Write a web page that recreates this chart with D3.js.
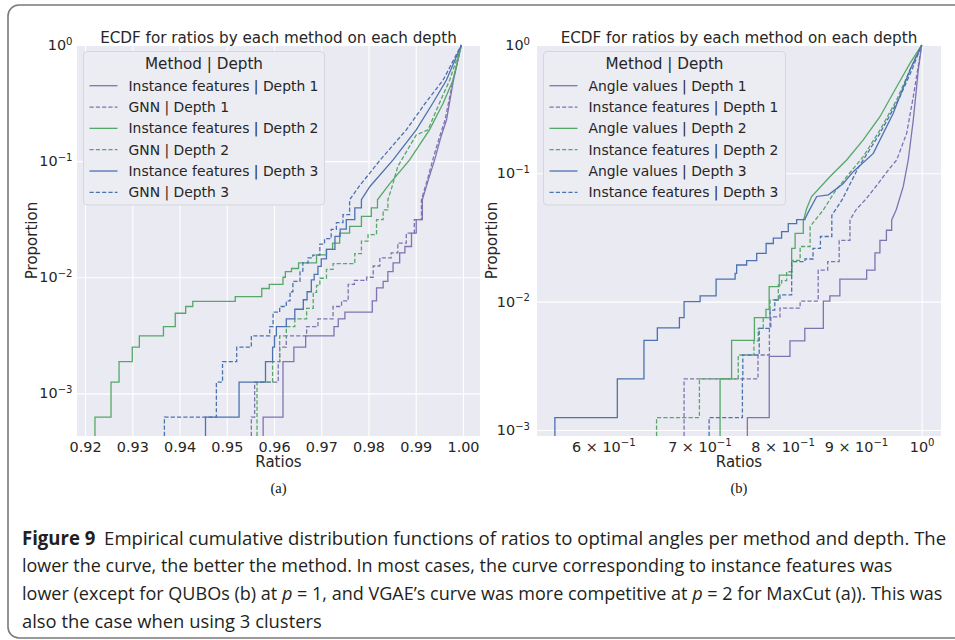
<!DOCTYPE html>
<html>
<head>
<meta charset="utf-8">
<script src="https://cdn.jsdelivr.net/npm/d3@7"></script>
<style>
  body { margin: 0; background: #fff; }
  svg text { font-family: "DejaVu Sans", sans-serif; fill: #262626; }
</style>
</head>
<body>
<svg id="fig" width="955" height="640"></svg>
<script>
// ---- data ----
const leftXTicks = [0.92, 0.93, 0.94, 0.95, 0.96, 0.97, 0.98, 0.99, 1.00];
const rightXTicks = [0.6, 0.7, 0.8, 0.9, 1.0];
const rightXTickBase = ["6 × 10", "7 × 10", "8 × 10", "9 × 10", "10"];
const rightXTickExp = ["−1", "−1", "−1", "−1", "0"];
const yTicks = [1e-3, 1e-2, 1e-1, 1];
const yTickExp = ["−3", "−2", "−1", "0"];

const leftNames = ["Instance features | Depth 1", "GNN | Depth 1", "Instance features | Depth 2",
                   "GNN | Depth 2", "Instance features | Depth 3", "GNN | Depth 3"];
const rightNames = ["Angle values | Depth 1", "Instance features | Depth 1", "Angle values | Depth 2",
                    "Instance features | Depth 2", "Angle values | Depth 3", "Instance features | Depth 3"];

// (a) ECDF jumps [ratio, proportion]; "trace" = dense part where the steps merge into a line
const aIfD1Steps = [[0.9577,6.25e-4],[0.9619,1.875e-3],[0.9642,2.5e-3],[0.9667,3.125e-3],[0.9727,3.75e-3],[0.9736,4.375e-3],[0.9750,5.0e-3],[0.9808,6.25e-3],[0.9817,8.1e-3],[0.9831,9.2e-3],[0.9841,0.0112],[0.9852,0.0133],[0.9866,0.0162],[0.9877,0.0184],[0.9891,0.024],[0.9901,0.0313],[0.9914,0.0465]];
const aIfD1Trace = [[0.9927,0.07],[0.9940,0.1026],[0.9953,0.16],[0.9965,0.226],[0.9980,0.5],[0.99965,1]];
const aGnnD1Steps = [[0.9552,6.25e-4],[0.9559,1.25e-3],[0.9609,1.875e-3],[0.9612,2.5e-3],[0.9626,3.125e-3],[0.9669,3.75e-3],[0.9693,4.375e-3],[0.9725,5.6e-3],[0.9743,6.25e-3],[0.9757,8.7e-3],[0.9770,9.4e-3],[0.9796,0.0100],[0.9810,0.0125],[0.9824,0.0147],[0.9848,0.0162],[0.9862,0.0197],[0.9880,0.024],[0.9897,0.0313],[0.9912,0.0465]];
const aGnnD1Trace = [[0.9925,0.07],[0.9936,0.1026],[0.9950,0.16],[0.9962,0.226],[0.9979,0.5],[0.99965,1]];
const aIfD2Steps = [[0.9221,6.25e-4],[0.9255,1.25e-3],[0.9272,1.875e-3],[0.9300,2.5e-3],[0.9315,3.125e-3],[0.9366,3.75e-3],[0.9391,4.9e-3],[0.9413,5.6e-3],[0.9428,6.2e-3],[0.9518,6.8e-3],[0.9574,8.0e-3],[0.9590,8.7e-3],[0.9619,0.0100],[0.9624,0.0112],[0.9637,0.0119],[0.9652,0.0133],[0.9690,0.0156],[0.9711,0.0174],[0.9724,0.0197],[0.9739,0.0240],[0.9760,0.0274],[0.9785,0.0335],[0.9806,0.0395],[0.9819,0.0465]];
const aIfD2Trace = [[0.9845,0.064],[0.9887,0.1026],[0.9929,0.186],[0.9958,0.315],[0.9979,0.5],[0.99965,1]];
const aGnnD2Steps = [[0.9564,1.25e-3],[0.9597,1.875e-3],[0.9612,3.125e-3],[0.9626,3.75e-3],[0.9644,4.375e-3],[0.9669,5.4e-3],[0.9683,7.4e-3],[0.9690,8.5e-3],[0.9697,9.8e-3],[0.9711,0.0117],[0.9725,0.0131],[0.9771,0.0160],[0.9785,0.0205],[0.9799,0.0233],[0.9817,0.0313],[0.9831,0.0380],[0.9841,0.0465]];
const aGnnD2Trace = [[0.9848,0.0567],[0.9862,0.090],[0.9901,0.168],[0.9926,0.186],[0.9950,0.315],[0.9972,0.5],[0.99965,1]];
const aIfD3Steps = [[0.9455,6.25e-4],[0.9526,1.25e-3],[0.9582,1.875e-3],[0.9597,2.5e-3],[0.9601,3.125e-3],[0.9605,3.75e-3],[0.9626,4.375e-3],[0.9644,5.3e-3],[0.9662,6.4e-3],[0.9670,7.5e-3],[0.9679,9.5e-3],[0.9685,0.0106],[0.9693,0.0124],[0.9700,0.0144],[0.9711,0.0174],[0.9729,0.0225],[0.9740,0.026],[0.9753,0.0313],[0.9771,0.0395],[0.9785,0.0465]];
const aIfD3Trace = [[0.9803,0.0605],[0.9852,0.1026],[0.9901,0.186],[0.9936,0.315],[0.9965,0.5],[0.99965,1]];
const aGnnD3Steps = [[0.9368,6.25e-4],[0.9478,1.25e-3],[0.9491,1.875e-3],[0.9521,2.5e-3],[0.9552,3.125e-3],[0.9591,3.75e-3],[0.9598,5.0e-3],[0.9612,5.6e-3],[0.9626,6.25e-3],[0.9634,7.5e-3],[0.9640,9.2e-3],[0.9655,0.0113],[0.9661,0.0133],[0.9672,0.0147],[0.9682,0.0155],[0.9697,0.0193],[0.9707,0.0215],[0.9721,0.0258],[0.9732,0.0295],[0.9746,0.0346],[0.9760,0.0465]];
const aGnnD3Trace = [[0.9780,0.0605],[0.9825,0.1026],[0.9880,0.186],[0.9920,0.315],[0.9958,0.5],[0.99965,1]];

// (b)
const bAvD1Steps = [[0.756,1.25e-3],[0.783,3.75e-3],[0.8095,4.95e-3],[0.829,6.2e-3],[0.854,0.0101],[0.863,0.0111],[0.877,0.0150],[0.9155,0.0176],[0.9278,0.024],[0.9352,0.030],[0.9450,0.036],[0.9530,0.0433]];
const bAvD1Trace = [[0.9600,0.052],[0.9709,0.079],[0.9787,0.127],[0.9866,0.26],[0.9946,0.64],[1,1]];
const bIfD1Steps = [[0.683,2.5e-3],[0.769,3.84e-3],[0.7832,6.2e-3],[0.7850,7.6e-3],[0.7966,8.9e-3],[0.8228,0.0101],[0.8470,0.0176],[0.8600,0.0205],[0.8760,0.0300],[0.8913,0.0433]];
const bIfD1Trace = [[0.9000,0.052],[0.9155,0.064],[0.9300,0.080],[0.9478,0.106],[0.9607,0.127],[0.9762,0.205],[0.9866,0.395],[1,1]];
const bAvD2Steps = [[0.7236,2.5e-3],[0.7371,5.0e-3],[0.7646,7.5e-3],[0.7789,8.7e-3],[0.7829,0.0131],[0.7957,0.0161],[0.8117,0.026],[0.8162,0.0341],[0.8270,0.0425]];
const bAvD2Trace = [[0.8315,0.0533],[0.8381,0.0659],[0.8630,0.094],[0.8866,0.127],[0.9105,0.182],[0.9352,0.276],[0.9607,0.473],[0.9814,0.72],[1,1]];
const bIfD2Steps = [[0.6535,1.25e-3],[0.7000,2.5e-3],[0.7450,3.84e-3],[0.7640,4.95e-3],[0.7693,6.2e-3],[0.7755,7.5e-3],[0.7840,0.0103],[0.7945,0.0135],[0.7987,0.0146],[0.8052,0.0171],[0.8120,0.0210],[0.8228,0.0269],[0.8361,0.0385]];
const bIfD2Trace = [[0.8539,0.0518],[0.8700,0.072],[0.8866,0.094],[0.9105,0.135],[0.9352,0.217],[0.9607,0.373],[0.9814,0.64],[1,1]];
const bAvD3Steps = [[0.5551,1.25e-3],[0.6136,2.5e-3],[0.6404,5.0e-3],[0.6543,6.25e-3],[0.6779,7.5e-3],[0.6830,0.0100],[0.7008,0.0111],[0.7190,0.0150],[0.7413,0.0166],[0.7431,0.0193],[0.7551,0.0209],[0.7674,0.0238],[0.7791,0.0284],[0.7882,0.0313],[0.7987,0.0351],[0.8073,0.0406],[0.8182,0.0435],[0.8292,0.0441]];
const bAvD3Trace = [[0.8340,0.0503],[0.8450,0.066],[0.8610,0.068],[0.8818,0.0834],[0.8960,0.103],[0.9253,0.143],[0.9554,0.294],[0.9814,0.638],[1,1]];
const bIfD3Steps = [[0.711,1.25e-3],[0.750,2.5e-3],[0.7505,3.84e-3],[0.7705,6.2e-3],[0.7840,8.6e-3],[0.7900,0.0103],[0.7966,0.0113],[0.8117,0.0205],[0.8292,0.0215],[0.8400,0.0260],[0.8500,0.0322],[0.8657,0.0470]];
const bIfD3Trace = [[0.8800,0.062],[0.9030,0.110],[0.9352,0.205],[0.9658,0.395],[0.9850,0.65],[1,1]];

const captionLine1 = "Empirical cumulative distribution functions of ratios to optimal angles per method and depth. The";
const captionLine2 = "lower the curve, the better the method. In most cases, the curve corresponding to instance features was";
const captionLine4 = "also the case when using 3 clusters";

// ---- styles ----
const depthColors = ["#8172b3", "#55a868", "#4c72b0"];
const dashes = [null, "4.2,2.1"];

const svg = d3.select("#fig");

// outer frame
svg.append("rect")
  .attr("x", 8).attr("y", 5).attr("width", 990).attr("height", 633).attr("rx", 11)
  .attr("fill", "none").attr("stroke", "#7a7a7a").attr("stroke-width", 1.6);

function supText(sel, base, exp) {
  sel.text(null);
  sel.append("tspan").text(base);
  sel.append("tspan").attr("dy", "-0.55em").attr("font-size", "0.7em").text(exp);
}

// builds ECDF vertices: vertical jumps + flat runs, then the dense tail as a plain line
function ecdfPoints(steps, trace, floor) {
  const pts = [];
  let prev = floor;
  steps.forEach(d => { pts.push([d[0], prev], [d[0], d[1]]); prev = d[1]; });
  trace.forEach(d => pts.push(d));
  return pts;
}

function drawPanel(p) {
  const x = p.x, y = p.y;
  const [x0, x1] = x.range();
  const [yb, yt] = y.range();
  const g = svg.append("g");

  g.append("rect").attr("x", x0).attr("y", yt).attr("width", x1 - x0).attr("height", yb - yt)
    .attr("fill", "#eaeaf2");

  // grid
  g.append("g").attr("transform", `translate(0,${yb})`)
    .call(d3.axisBottom(x).tickValues(p.xGrid).tickSize(-(yb - yt)).tickFormat(""))
    .call(a => a.select(".domain").remove())
    .selectAll("line").attr("stroke", "#fff").attr("stroke-width", 1.1);
  g.append("g").attr("transform", `translate(${x0},0)`)
    .call(d3.axisLeft(y).tickValues(yTicks).tickSize(-(x1 - x0)).tickFormat(""))
    .call(a => a.select(".domain").remove())
    .selectAll("line").attr("stroke", "#fff").attr("stroke-width", 1.1);

  // tick labels
  const xa = g.append("g").attr("transform", `translate(0,${yb})`)
    .call(p.xAxis.tickSize(0).tickPadding(5.5));
  xa.select(".domain").remove();
  xa.selectAll("text").attr("font-size", 14.4).attr("font-family", "DejaVu Sans").attr("fill", "#262626");
  if (p.xSup) xa.selectAll(".tick text").each(function(d, i) { supText(d3.select(this), rightXTickBase[i], rightXTickExp[i]); });

  const ya = g.append("g").attr("transform", `translate(${x0},0)`)
    .call(d3.axisLeft(y).tickValues(yTicks).tickSize(0).tickPadding(p.yPad));
  ya.select(".domain").remove();
  ya.selectAll("text").attr("font-size", 14.4).attr("font-family", "DejaVu Sans").attr("fill", "#262626")
    .each(function(d, i) { supText(d3.select(this), "10", yTickExp[i]); });

  // curves
  const clipId = "clip" + p.id;
  svg.append("clipPath").attr("id", clipId).append("rect")
    .attr("x", x0).attr("y", yt - 1).attr("width", x1 - x0).attr("height", yb - yt + 1);
  const line = d3.line().x(d => x(d[0])).y(d => y(d[1]));
  const floor = y.domain()[0];
  const lg = g.append("g").attr("clip-path", `url(#${clipId})`);
  p.series.forEach((s, i) => {
    lg.append("path")
      .attr("d", line(ecdfPoints(s[0], s[1], floor)))
      .attr("fill", "none")
      .attr("stroke", depthColors[Math.floor(i / 2)])
      .attr("stroke-width", 1.3)
      .attr("stroke-dasharray", dashes[i % 2]);
  });

  // legend
  const L = p.legend;
  const lgd = g.append("g");
  lgd.append("rect").attr("x", L.x).attr("y", 51.5).attr("width", L.w).attr("height", 153.5).attr("rx", 3.5)
    .attr("fill", "#ececf3").attr("stroke", "#d6d6dc").attr("stroke-width", 1);
  lgd.append("text").attr("x", L.x + L.w / 2).attr("y", 68.8).attr("text-anchor", "middle")
    .attr("font-size", 15.2).text("Method | Depth");
  p.names.forEach((n, i) => {
    const cy = 85.7 + i * 21.33;
    lgd.append("line").attr("x1", L.x + 6).attr("x2", L.x + 34).attr("y1", cy).attr("y2", cy)
      .attr("stroke", depthColors[Math.floor(i / 2)]).attr("stroke-width", 1.3)
      .attr("stroke-dasharray", dashes[i % 2]);
    lgd.append("text").attr("x", L.x + 45).attr("y", cy + 5.1).attr("font-size", 13.9).text(n);
  });

  // titles
  const cx = (x0 + x1) / 2;
  g.append("text").attr("x", cx).attr("y", 42.5).attr("text-anchor", "middle").attr("font-size", 15.2)
    .text("ECDF for ratios by each method on each depth");
  g.append("text").attr("x", cx).attr("y", 467).attr("text-anchor", "middle").attr("font-size", 15)
    .text("Ratios");
  g.append("text").attr("transform", `translate(${p.yLabelX},${(yb + yt) / 2}) rotate(-90)`)
    .attr("text-anchor", "middle").attr("font-size", 15).text("Proportion");
  g.append("text").attr("x", cx).attr("y", 493).attr("text-anchor", "middle")
    .style("font-family", "'Liberation Serif', serif")
    .attr("font-size", 14.5).style("fill", "#111").text(p.tag);
}

const xLeft = d3.scaleLinear().domain([0.9183, 1.0036]).range([77, 480]);
const yLeft = d3.scaleLog().domain([Math.pow(10, -3.367), 1]).range([436, 45]);
drawPanel({
  id: "a", x: xLeft, y: yLeft, xGrid: leftXTicks,
  xAxis: d3.axisBottom(xLeft).tickValues(leftXTicks).tickFormat(d3.format(".2f")),
  yPad: 4.5, yLabelX: 37, tag: "(a)", names: leftNames, legend: { x: 83.5, w: 241 },
  series: [[aIfD1Steps, aIfD1Trace], [aGnnD1Steps, aGnnD1Trace], [aIfD2Steps, aIfD2Trace],
           [aGnnD2Steps, aGnnD2Trace], [aIfD3Steps, aIfD3Trace], [aGnnD3Steps, aGnnD3Trace]]
});

const xRight = d3.scaleLog().domain([0.5394, 1.0315]).range([537, 941]);
const yRight = d3.scaleLog().domain([Math.pow(10, -3.047), 1]).range([436, 45]);
drawPanel({
  id: "b", x: xRight, y: yRight, xGrid: [1.0], xSup: true,
  xAxis: d3.axisBottom(xRight).tickValues(rightXTicks),
  yPad: 7, yLabelX: 497, tag: "(b)", names: rightNames, legend: { x: 543.5, w: 242 },
  series: [[bAvD1Steps, bAvD1Trace], [bIfD1Steps, bIfD1Trace], [bAvD2Steps, bAvD2Trace],
           [bIfD2Steps, bIfD2Trace], [bAvD3Steps, bAvD3Trace], [bIfD3Steps, bIfD3Trace]]
});

// caption, squeezed horizontally to the measured line widths
const cap = svg.append("g");
function capLine(baseline, width, build) {
  const t = cap.append("text").attr("x", 0).attr("y", 0).attr("font-size", 19)
    .style("font-family", "'Open Sans', sans-serif").style("fill", "#231f20");
  build(t);
  const w = t.node().getComputedTextLength();
  t.attr("transform", `translate(22,${baseline}) scale(${width / w},1)`);
}
capLine(544.5, 916, t => {
  t.append("tspan").attr("font-weight", "bold").text("Figure 9");
  t.append("tspan").attr("dx", 9).text(captionLine1);
});
capLine(572.2, 871, t => t.text(captionLine2));
capLine(599.9, 921, t => {
  t.append("tspan").text("lower (except for QUBOs (b) at ");
  t.append("tspan").attr("font-style", "italic").text("p");
  t.append("tspan").text(" = 1, and VGAE’s curve was more competitive at ");
  t.append("tspan").attr("font-style", "italic").text("p");
  t.append("tspan").text(" = 2 for MaxCut (a)). This was");
});
capLine(627.6, 300, t => t.text(captionLine4));
</script>
</body>
</html>
